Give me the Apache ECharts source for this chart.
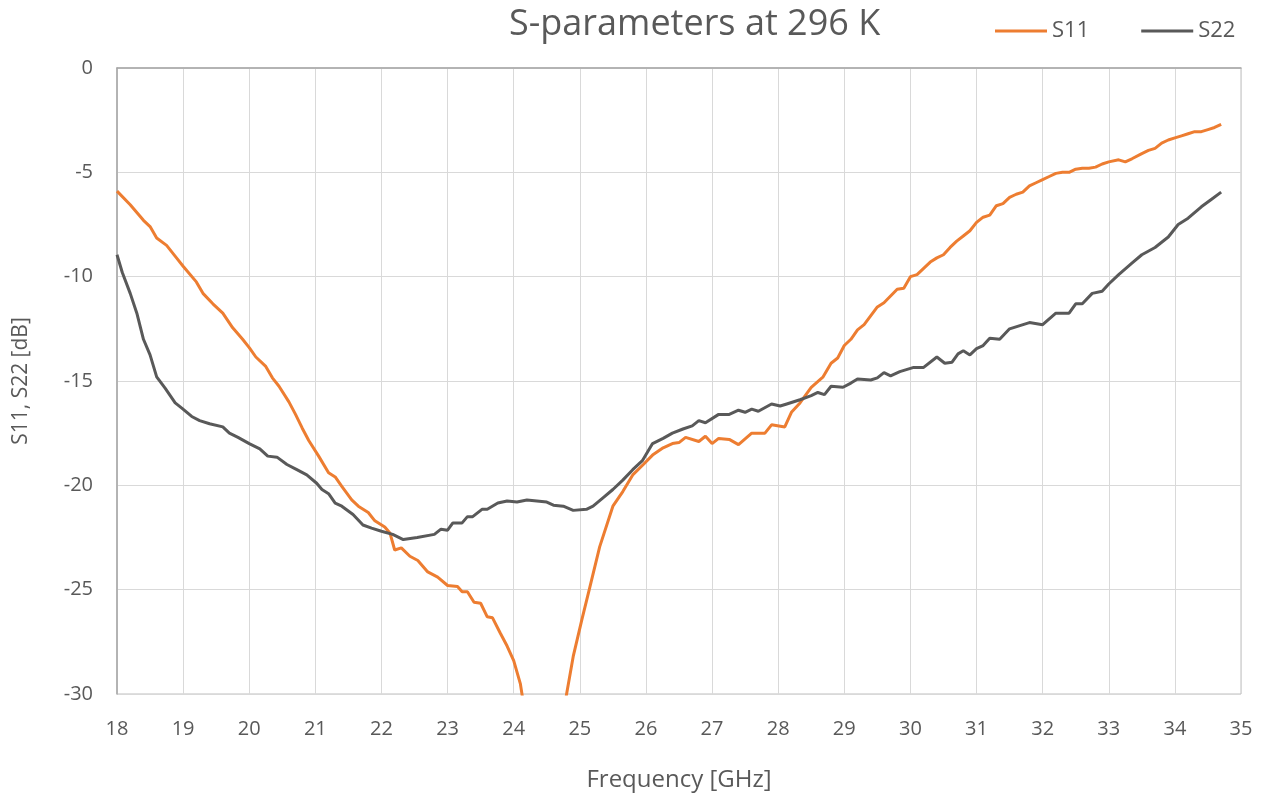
<!DOCTYPE html>
<html>
<head>
<meta charset="utf-8">
<title>S-parameters at 296 K</title>
<script src="https://cdn.jsdelivr.net/npm/echarts@6/dist/echarts.min.js"></script>
<style>
  html, body { margin: 0; padding: 0; background: #fff; }
  #chart { width: 1265px; height: 798px; }
</style>
</head>
<body>
<div id="chart"></div>
<script>
// S11 readings (GHz, dB) -- dips below -30 between ~24.15 and 24.8 GHz
const s11Freq = [
  18.0, 18.2, 18.4, 18.5, 18.6, 18.75, 18.9, 19.0, 19.2, 19.3, 19.45, 19.6, 19.75, 19.9,
  20.0, 20.1, 20.25, 20.35, 20.45, 20.6, 20.7, 20.8, 20.9, 21.05, 21.2, 21.3, 21.4, 21.55,
  21.65, 21.8, 21.9, 22.05, 22.13, 22.2, 22.3, 22.43, 22.55, 22.7, 22.85, 23.0, 23.15, 23.22,
  23.3, 23.4, 23.5, 23.6, 23.68, 23.8, 23.9, 24.0, 24.1, 24.2, 24.4, 24.55, 24.7, 24.8,
  24.9, 25.03, 25.15, 25.3, 25.5, 25.65, 25.8, 25.96, 26.1, 26.26, 26.4, 26.5, 26.6, 26.8,
  26.9, 27.0, 27.1, 27.26, 27.4, 27.6, 27.8, 27.9, 28.1, 28.2, 28.33, 28.5, 28.68, 28.8,
  28.9, 29.0, 29.1, 29.2, 29.3, 29.5, 29.6, 29.8, 29.9, 30.0, 30.1, 30.2, 30.3, 30.4,
  30.5, 30.6, 30.7, 30.8, 30.9, 31.0, 31.1, 31.2, 31.3, 31.4, 31.5, 31.6, 31.7, 31.8,
  31.9, 32.0, 32.1, 32.2, 32.3, 32.4, 32.5, 32.6, 32.7, 32.8, 32.9, 33.0, 33.15, 33.25,
  33.35, 33.5, 33.6, 33.7, 33.8, 33.9, 34.0, 34.1, 34.2, 34.3, 34.4, 34.5, 34.6, 34.7
];
const s11Db = [
  -5.9, -6.55, -7.3, -7.6, -8.15, -8.5, -9.1, -9.5, -10.25, -10.8, -11.3, -11.75, -12.45, -13.0,
  -13.4, -13.85, -14.3, -14.85, -15.25, -16.0, -16.6, -17.25, -17.85, -18.6, -19.4, -19.6, -20.05, -20.7,
  -21.0, -21.3, -21.7, -22.0, -22.3, -23.1, -23.0, -23.4, -23.6, -24.15, -24.4, -24.8, -24.85, -25.1,
  -25.1, -25.6, -25.65, -26.3, -26.35, -27.1, -27.7, -28.4, -29.5, -31.5, -36.0, -37.0, -32.0, -30.0,
  -28.2, -26.45, -24.9, -22.95, -21.0, -20.3, -19.5, -19.0, -18.55, -18.2, -18.0, -17.95, -17.7, -17.9,
  -17.65, -18.0, -17.75, -17.8, -18.05, -17.5, -17.5, -17.1, -17.2, -16.5, -16.05, -15.3, -14.8, -14.15,
  -13.9, -13.3, -13.0, -12.55, -12.3, -11.45, -11.25, -10.6, -10.55, -10.0, -9.9, -9.6, -9.3, -9.1,
  -8.95, -8.6, -8.3, -8.05, -7.8, -7.4, -7.15, -7.05, -6.6, -6.5, -6.2, -6.05, -5.95, -5.65,
  -5.5, -5.35, -5.2, -5.05, -5.0, -5.0, -4.85, -4.8, -4.8, -4.75, -4.6, -4.5, -4.4, -4.5,
  -4.35, -4.1, -3.95, -3.85, -3.6, -3.45, -3.35, -3.25, -3.15, -3.05, -3.05, -2.95, -2.85, -2.7
];

// S22 readings (GHz, dB)
const s22Freq = [
  18.0, 18.08, 18.2, 18.3, 18.4, 18.5, 18.6, 18.73, 18.88, 18.98, 19.13, 19.25, 19.4, 19.6,
  19.7, 19.83, 20.0, 20.16, 20.28, 20.42, 20.57, 20.72, 20.87, 21.02, 21.1, 21.2, 21.3, 21.4,
  21.57, 21.72, 21.85, 22.0, 22.17, 22.33, 22.54, 22.8, 22.9, 23.0, 23.08, 23.22, 23.3, 23.38,
  23.52, 23.6, 23.76, 23.9, 24.05, 24.2, 24.5, 24.6, 24.75, 24.9, 25.1, 25.2, 25.35, 25.5,
  25.65, 25.8, 25.95, 26.1, 26.26, 26.4, 26.56, 26.7, 26.8, 26.9, 27.1, 27.26, 27.4, 27.5,
  27.6, 27.7, 27.9, 28.03, 28.13, 28.33, 28.5, 28.6, 28.7, 28.8, 28.98, 29.1, 29.2, 29.4,
  29.5, 29.6, 29.7, 29.84, 30.05, 30.2, 30.4, 30.52, 30.63, 30.72, 30.8, 30.9, 31.0, 31.1,
  31.2, 31.35, 31.5, 31.8, 32.0, 32.2, 32.4, 32.5, 32.6, 32.75, 32.9, 33.0, 33.15, 33.35,
  33.5, 33.7, 33.9, 34.05, 34.2, 34.4, 34.55, 34.7
];
const s22Db = [
  -8.95, -9.8, -10.8, -11.75, -13.0, -13.75, -14.8, -15.35, -16.05, -16.3, -16.7, -16.9, -17.05, -17.2,
  -17.5, -17.7, -18.0, -18.25, -18.6, -18.65, -19.0, -19.25, -19.5, -19.9, -20.2, -20.4, -20.85, -21.0,
  -21.4, -21.9, -22.05, -22.2, -22.35, -22.6, -22.5, -22.35, -22.1, -22.15, -21.8, -21.8, -21.5, -21.5,
  -21.15, -21.15, -20.85, -20.75, -20.8, -20.7, -20.8, -20.95, -21.0, -21.2, -21.15, -21.0, -20.6, -20.2,
  -19.75, -19.25, -18.8, -18.0, -17.75, -17.5, -17.3, -17.15, -16.9, -17.0, -16.6, -16.6, -16.4, -16.5,
  -16.35, -16.45, -16.1, -16.2, -16.1, -15.9, -15.7, -15.55, -15.65, -15.25, -15.3, -15.1, -14.9, -14.95,
  -14.85, -14.6, -14.75, -14.55, -14.35, -14.35, -13.85, -14.15, -14.1, -13.7, -13.55, -13.75, -13.45, -13.3,
  -12.95, -13.0, -12.5, -12.2, -12.3, -11.75, -11.75, -11.3, -11.3, -10.8, -10.7, -10.35, -9.9, -9.35,
  -8.95, -8.6, -8.1, -7.5, -7.2, -6.65, -6.3, -5.95
];

const xTicks = { min: 18, max: 35, step: 1 };
const yTicks = { min: -30, max: 0, step: 5 };

const pairs = (xs, ys) => xs.map((x, i) => [x, ys[i]]);

const textColor = '#595959';
const fontFamily = '"Open Sans", "Noto Sans", sans-serif';

const chart = echarts.init(document.getElementById('chart'));
chart.setOption({
  animation: false,
  textStyle: { fontFamily: fontFamily, color: textColor },
  title: {
    text: 'S-parameters at 296 K',
    left: 504,
    top: 2,
    textStyle: { fontSize: 36, fontWeight: 'normal', color: textColor, fontFamily: fontFamily }
  },
  legend: {
    left: 990,
    top: 15,
    icon: 'rect',
    itemWidth: 52,
    itemHeight: 3,
    itemGap: 52,
    textStyle: { fontSize: 22, color: textColor, fontFamily: fontFamily },
    data: ['S11', 'S22']
  },
  grid: {
    left: 117,
    right: 24,
    top: 68,
    bottom: 104,
    show: true,
    borderColor: '#bfbfbf',
    borderWidth: 1
  },
  xAxis: {
    type: 'value',
    min: xTicks.min,
    max: xTicks.max,
    interval: xTicks.step,
    name: 'Frequency [GHz]',
    nameLocation: 'middle',
    nameGap: 74,
    nameTextStyle: { fontSize: 24, color: textColor },
    axisLine: { show: true, lineStyle: { color: '#a6a6a6', width: 1.5 } },
    axisTick: { show: false },
    axisLabel: { fontSize: 20, color: textColor, margin: 25 },
    splitLine: { show: true, lineStyle: { color: '#d9d9d9', width: 1 } }
  },
  yAxis: {
    type: 'value',
    min: yTicks.min,
    max: yTicks.max,
    interval: yTicks.step,
    name: 'S11, S22 [dB]',
    nameLocation: 'middle',
    nameGap: 85,
    nameTextStyle: { fontSize: 21, color: textColor },
    axisLine: { show: true, lineStyle: { color: '#a6a6a6', width: 1.5 } },
    axisTick: { show: false },
    axisLabel: { fontSize: 20, color: textColor, margin: 24 },
    splitLine: { show: true, lineStyle: { color: '#d9d9d9', width: 1 } }
  },
  series: [
    {
      name: 'S11',
      type: 'line',
      data: pairs(s11Freq, s11Db),
      showSymbol: false,
      symbol: 'none',
      clip: true,
      lineStyle: { color: '#ed7d31', width: 3 },
      itemStyle: { color: '#ed7d31' }
    },
    {
      name: 'S22',
      type: 'line',
      data: pairs(s22Freq, s22Db),
      showSymbol: false,
      symbol: 'none',
      clip: true,
      lineStyle: { color: '#595959', width: 3 },
      itemStyle: { color: '#595959' }
    }
  ]
});
</script>
</body>
</html>
